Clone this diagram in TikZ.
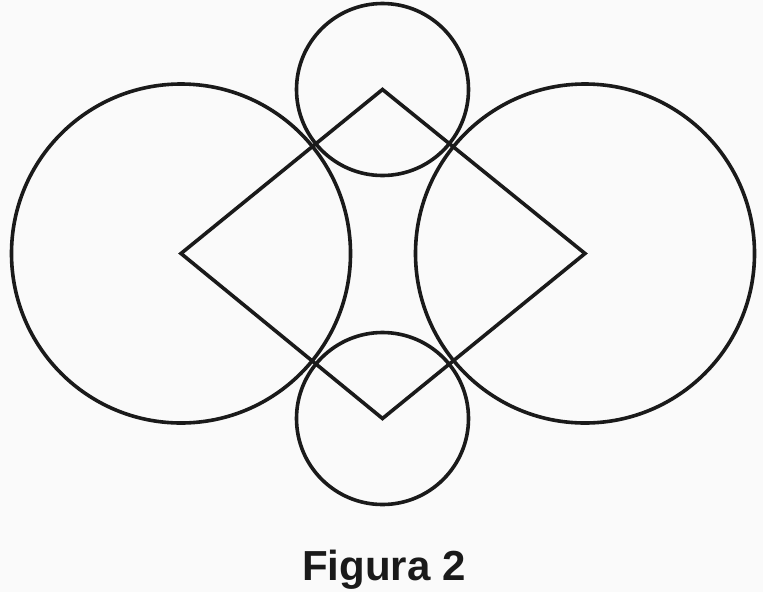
\documentclass[tikz,border=0pt]{standalone}
\usepackage{fontspec}
\setmainfont{Liberation Sans}
\definecolor{ink}{HTML}{1A1A1A}
\definecolor{bg}{HTML}{FAFAFA}
\begin{document}
\begin{tikzpicture}[x=1pt,y=-1pt,
  shape line/.style={draw=ink,line width=3.6pt,line join=miter},
  caption/.style={font=\fontsize{42}{46}\selectfont\bfseries,text=ink,anchor=base,inner sep=0pt}]
\fill[bg] (0,0) rectangle (763,592);
\useasboundingbox (0,0) rectangle (763,592);
\coordinate (L) at (181,253.5);
\coordinate (R) at (585,253.5);
\coordinate (T) at (382.5,89.5);
\coordinate (B) at (382.5,418.5);
\draw[shape line] (L) circle[radius=169.5];
\draw[shape line] (R) circle[radius=169.5];
\draw[shape line] (T) circle[radius=86];
\draw[shape line] (B) circle[radius=86];
\draw[shape line] (L) -- (T) -- (R) -- (B) -- cycle;
\node[caption] (cap) at (384,580) {Figura 2};
\end{tikzpicture}
\end{document}
